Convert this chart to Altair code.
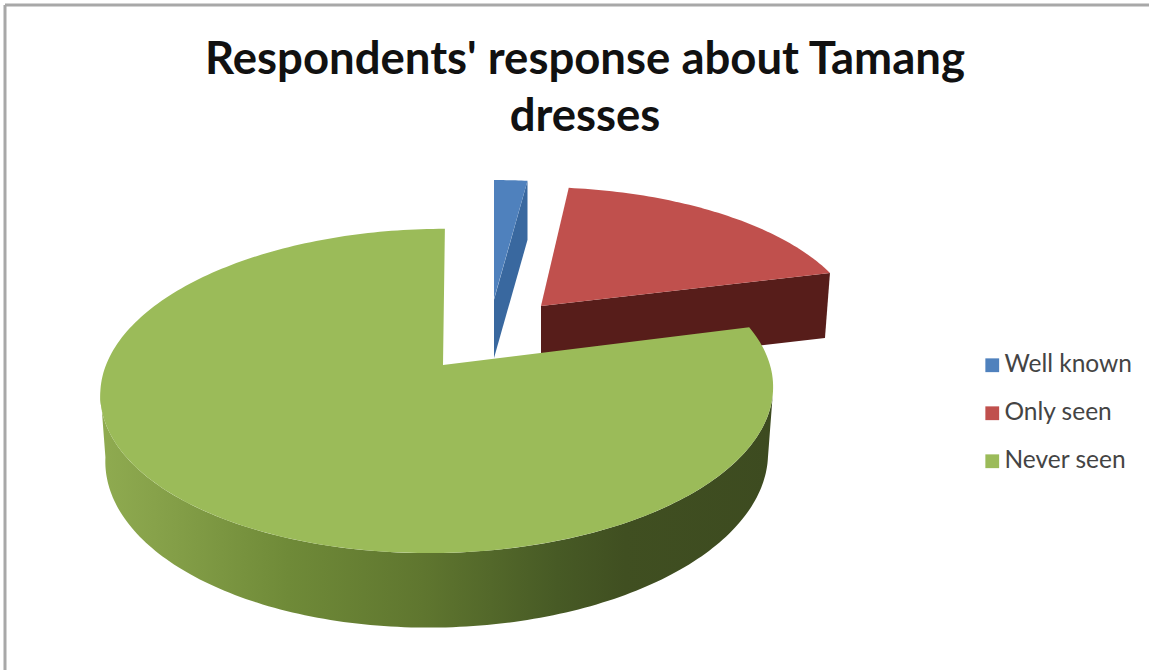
import numpy as np
import pandas as pd
import altair as alt

# Chart content
title_lines = ["Respondents' response about Tamang", "dresses"]
categories = ["Well known", "Only seen", "Never seen"]
shares = [2, 19, 79]
top_colors = ["#4f81bd", "#c0504d", "#9bbb59"]

W, H = 1149, 670

# Exploded wedges: where each wedge's tip lands and how its disc is foreshortened
K = 0.16
VIEW = {
    "Well known": dict(tip=(494, 299), base=(494, 358), f=310, g=138, fb=310, gb=138, s=0),
    "Only seen": dict(tip=(541, 306), base=(536, 371), f=312, g=138, fb=312, gb=138, s=-7),
    "Never seen": dict(tip=(438, 365), base=(438, 430), f=332, g=158, fb=327, gb=166, s=8),
}
GREEN_TIP = (443, 365)


def rim(view, theta, lower=False):
    """Project a clockwise-from-north angle on to the tilted disc."""
    u, v = np.sin(theta), np.cos(theta)
    cx, cy = view["base"] if lower else view["tip"]
    f, g = (view["fb"], view["gb"]) if lower else (view["f"], view["g"])
    d = 1 + K * v
    return cx + (f * u + view["s"] * v) / d, cy - g * v / d


def frame(xs, ys):
    return pd.DataFrame({"px": xs, "py": ys, "step": np.arange(len(xs))})


x_scale = alt.Scale(domain=[0, W], range=[0, W], nice=False, zero=False)
y_scale = alt.Scale(domain=[0, H], range=[0, H], nice=False, zero=False)


def polygon(xs, ys, fill):
    return alt.Chart(frame(xs, ys)).mark_line(fill=fill, strokeWidth=0, clip=False).encode(
        x=alt.X("px:Q", scale=x_scale, axis=None),
        y=alt.Y("py:Q", scale=y_scale, axis=None),
        order="step:Q",
    )


def title_row(text, baseline_y):
    return alt.Chart(pd.DataFrame({"t": [text]})).mark_text(
        font="Lato", fontWeight="bold", fontSize=45.5, color="#111111", align="center", baseline="alphabetic"
    ).encode(text="t:N", x=alt.value(585), y=alt.value(baseline_y))


edges = 2 * np.pi * np.cumsum([0] + shares) / sum(shares)
spans = {c: (edges[i], edges[i + 1]) for i, c in enumerate(categories)}

layers = []

# Frame along the top and left edges
layers.append(alt.Chart(pd.DataFrame({"a": [0]})).mark_rule(color="#a8a8a8", strokeWidth=3).encode(
    x=alt.value(5), y=alt.value(5), y2=alt.value(H)))
layers.append(alt.Chart(pd.DataFrame({"a": [0]})).mark_rule(color="#a8a8a8", strokeWidth=3).encode(
    x=alt.value(5), x2=alt.value(W), y=alt.value(5)))

# Title
layers.append(title_row(title_lines[0], 74))
layers.append(title_row(title_lines[1], 131))

# Hidden carrier for the legend, tucked underneath the large wedge
layers.append(alt.Chart(pd.DataFrame({"c": categories})).mark_square(size=1).encode(
    x=alt.value(430), y=alt.value(450),
    color=alt.Color("c:N", scale=alt.Scale(domain=categories, range=top_colors), legend=alt.Legend(
        title=None, orient="none", legendX=980, legendY=353, symbolType="square", symbolSize=190,
        symbolStrokeWidth=0, labelFont="Lato", labelFontSize=24.5, labelColor="#444444",
        rowPadding=23, labelOffset=0, symbolOpacity=1, labelLimit=200,
    )),
))

# Small wedge
v = VIEW["Well known"]
a, b = spans["Well known"]
tx, ty = rim(v, b)
drop = v["base"][1] - v["tip"][1]
layers.append(polygon([v["tip"][0], tx, tx, v["base"][0]], [ty + 119, ty, ty + drop, v["base"][1]], "#39689f"))
th = np.linspace(a, b, 12)
ax, ay = rim(v, th)
layers.append(polygon([*ax, v["tip"][0]], [*ay, v["tip"][1]], top_colors[0]))

# Middle wedge with its dark cut face
v = VIEW["Only seen"]
a, b = spans["Only seen"]
ex, ey = rim(v, b)
gx, gy = rim(v, b, lower=True)
layers.append(polygon([v["tip"][0], ex, gx, v["tip"][0]], [v["tip"][1], ey, gy, v["base"][1]], "#571d1a"))
th = np.linspace(a, b, 60)
ax, ay = rim(v, th)
layers.append(polygon([*ax, v["tip"][0]], [*ay, v["tip"][1]], top_colors[1]))

# Large wedge: shaded outer wall, then the top face
v = VIEW["Never seen"]
a, b = spans["Never seen"]
side = np.linspace(np.arccos(-K), 2 * np.pi - np.arccos(-K), 160)
ux, uy = rim(v, side)
lx, ly = rim(v, side, lower=True)
wall_fill = alt.LinearGradient(
    gradient="linear", x1=1, x2=0, y1=0, y2=0,
    stops=[
        alt.GradientStop(offset=0.0, color="#3d4b20"),
        alt.GradientStop(offset=0.22, color="#404f21"),
        alt.GradientStop(offset=0.32, color="#475a25"),
        alt.GradientStop(offset=0.52, color="#5f762f"),
        alt.GradientStop(offset=0.72, color="#6f8a38"),
        alt.GradientStop(offset=0.92, color="#87a24a"),
        alt.GradientStop(offset=1.0, color="#8fab50"),
    ],
)
layers.append(polygon([*ux, *lx[::-1]], [*uy, *ly[::-1]], wall_fill))
th = np.linspace(a, b, 240)
ax, ay = rim(v, th)
layers.append(polygon([*ax, GREEN_TIP[0]], [*ay, GREEN_TIP[1]], top_colors[2]))

chart = alt.layer(*layers).resolve_scale(color="independent").properties(
    width=W, height=H, padding=0, background="white",
    autosize=alt.AutoSizeParams(type="none"),
).configure_view(stroke=None)

chart.save("out.html", embed_options={"renderer": "svg", "actions": False})
